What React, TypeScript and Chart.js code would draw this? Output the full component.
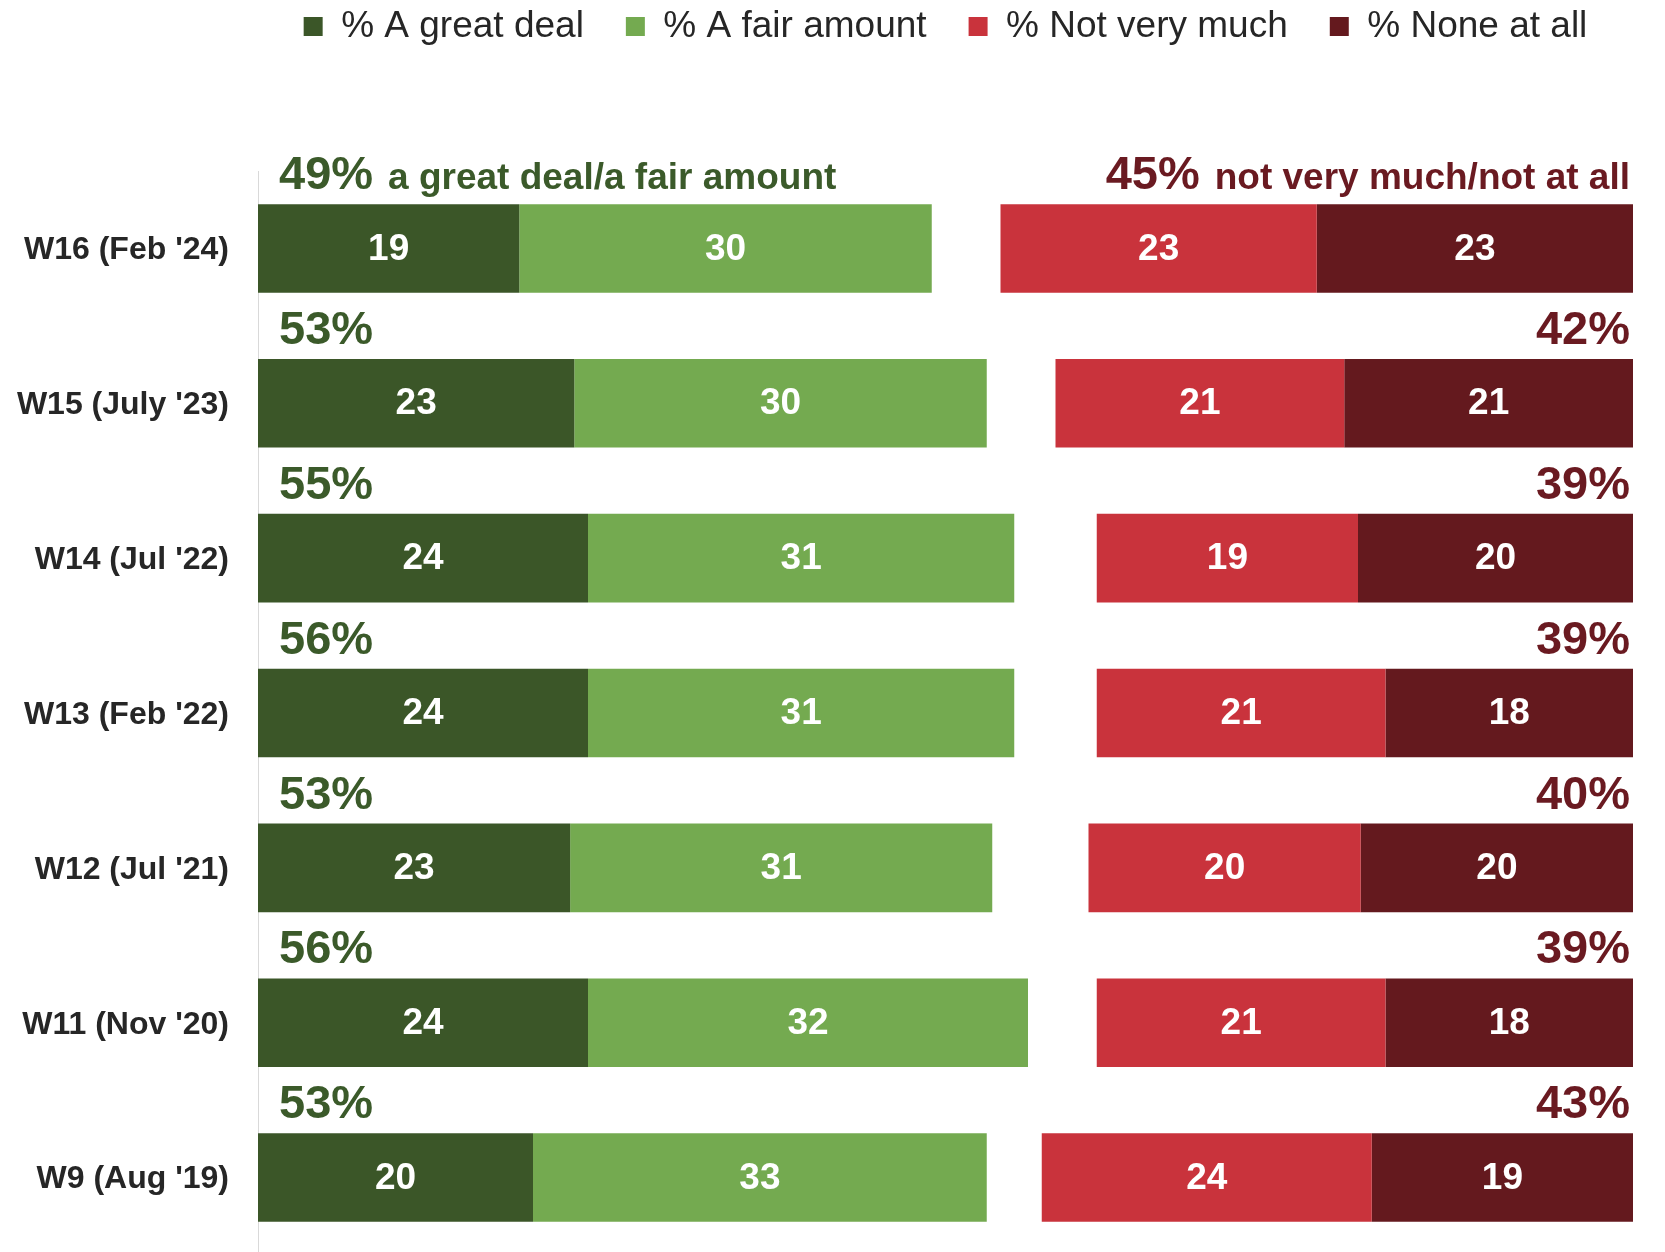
import React, { useEffect, useRef } from 'react';
import { Chart, registerables } from 'chart.js';

Chart.register(...registerables);

const categories = [
  "W16 (Feb '24)",
  "W15 (July '23)",
  "W14 (Jul '22)",
  "W13 (Feb '22)",
  "W12 (Jul '21)",
  "W11 (Nov '20)",
  "W9 (Aug '19)",
];
const seriesLabels = ['% A great deal', '% A fair amount', "Don't know", '% Not very much', '% None at all'];
const greatDeal = [19, 23, 24, 24, 22.7, 24, 20];
const fairAmount = [30, 30, 31, 31, 30.7, 32, 33];
const dontKnow = [5, 5, 6, 6, 7, 5, 4];
const notVeryMuch = [23, 21, 19, 21, 19.8, 21, 24];
const noneAtAll = [23, 21, 20, 18, 19.8, 18, 19];
const positiveTotals = [49, 53, 55, 56, 53, 56, 53];
const negativeTotals = [45, 42, 39, 39, 40, 39, 43];
const positiveCaption = 'a great deal/a fair amount';
const negativeCaption = 'not very much/not at all';

const FONT = "'Liberation Sans', Arial, Helvetica, sans-serif";
const DARK_GREEN = '#3b5628';
const LIGHT_GREEN = '#74aa50';
const RED = '#c9333c';
const DARK_RED = '#64191e';
const GREEN_TEXT = '#3b5a2a';
const RED_TEXT = '#6a1a21';

const legendLayoutPlugin = {
  id: 'legendLayout',
  beforeInit(chart: any) {
    const legend = chart.legend;
    if (!legend) return;
    const fit = legend.fit;
    legend.fit = function () {
      fit.call(this);
      this.height = 171;
    };
    const draw = legend.draw;
    legend.draw = function (...args: any[]) {
      const c = this.ctx;
      const area = chart.chartArea;
      // centre the legend over the plot area rather than the whole canvas
      const dx = area ? (area.left + area.right) / 2 - (this.left + this.right) / 2 : 0;
      c.save();
      c.translate(dx, -34);
      draw.apply(this, args);
      c.restore();
    };
  },
};

const barLabelsPlugin = {
  id: 'barLabels',
  afterDatasetsDraw(chart: any) {
    const ctx = chart.ctx;
    const { left, right } = chart.chartArea;
    ctx.save();
    [0, 1, 3, 4].forEach((di) => {
      const meta = chart.getDatasetMeta(di);
      const data = chart.data.datasets[di].data as number[];
      meta.data.forEach((el: any, i: number) => {
        const { x, base, y } = el.getProps(['x', 'base', 'y'], true);
        ctx.font = `bold 37px ${FONT}`;
        ctx.fillStyle = '#ffffff';
        ctx.textAlign = 'center';
        ctx.textBaseline = 'middle';
        ctx.fillText(String(Math.round(data[i])), (x + base) / 2, y + 1);
      });
    });
    const meta0 = chart.getDatasetMeta(0);
    meta0.data.forEach((el: any, i: number) => {
      const { y, height } = el.getProps(['y', 'height'], true);
      const top = y - height / 2;
      const baseline = top - 15;
      ctx.textBaseline = 'alphabetic';
      ctx.fillStyle = GREEN_TEXT;
      ctx.textAlign = 'left';
      ctx.font = `bold 47px ${FONT}`;
      const pTxt = positiveTotals[i] + '%';
      const px = left + 21;
      ctx.fillText(pTxt, px, baseline);
      if (i === 0) {
        const w = ctx.measureText(pTxt).width;
        ctx.font = `bold 37px ${FONT}`;
        ctx.fillText(positiveCaption, px + w + 15, baseline);
      }
      ctx.fillStyle = RED_TEXT;
      ctx.textAlign = 'right';
      const nTxt = negativeTotals[i] + '%';
      const rx = right - 3;
      if (i === 0) {
        ctx.font = `bold 37px ${FONT}`;
        const cw = ctx.measureText(negativeCaption).width;
        ctx.fillText(negativeCaption, rx, baseline);
        ctx.font = `bold 47px ${FONT}`;
        ctx.fillText(nTxt, rx - cw - 15, baseline);
      } else {
        ctx.font = `bold 47px ${FONT}`;
        ctx.fillText(nTxt, rx, baseline);
      }
    });
    ctx.restore();
  },
};

export default function App() {
  const canvasRef = useRef<HTMLCanvasElement | null>(null);

  useEffect(() => {
    document.body.style.margin = '0';
    document.body.style.overflow = 'hidden';
    const canvas = canvasRef.current;
    if (!canvas) return;
    const colors = [DARK_GREEN, LIGHT_GREEN, 'rgba(0,0,0,0)', RED, DARK_RED];
    const values = [greatDeal, fairAmount, dontKnow, notVeryMuch, noneAtAll];
    const chart = new Chart(canvas, {
      type: 'bar',
      data: {
        labels: categories,
        datasets: values.map((d, i) => ({
          label: seriesLabels[i],
          data: d,
          backgroundColor: colors[i],
          borderWidth: 0,
          categoryPercentage: 1,
          barPercentage: 0.572,
        })),
      },
      options: {
        indexAxis: 'y',
        responsive: false,
        devicePixelRatio: 1,
        animation: false,
        layout: { padding: { left: 0, right: 32, top: 0, bottom: 0 } },
        scales: {
          x: {
            stacked: true,
            min: 0,
            max: 100,
            display: false,
          },
          y: {
            stacked: true,
            grid: { display: false, drawTicks: false, tickLength: 0 },
            border: { display: true, color: '#d9d9d9', width: 1 },
            ticks: {
              padding: 29,
              labelOffset: 2,
              color: '#262626',
              font: { family: FONT, size: 32, weight: 'bold' },
            },
            afterFit: (scale: any) => {
              scale.width = 258;
              scale.paddingTop = 0;
              scale.paddingBottom = 0;
            },
          },
        },
        plugins: {
          tooltip: { enabled: false },
          legend: {
            display: true,
            position: 'top',
            align: 'center',
            fullSize: true,
            labels: {
              boxWidth: 19,
              boxHeight: 19,
              padding: 42,
              color: '#262626',
              font: { family: FONT, size: 37 },
              filter: (item: any) => item.datasetIndex !== 2,
            },
          },
        },
      },
      plugins: [legendLayoutPlugin, barLabelsPlugin],
    } as any);
    return () => {
      chart.destroy();
    };
  }, []);

  return (
    <div style={{ width: 1665, height: 1255 }}>
      <canvas ref={canvasRef} width={1665} height={1255} style={{ display: 'block' }} />
    </div>
  );
}
